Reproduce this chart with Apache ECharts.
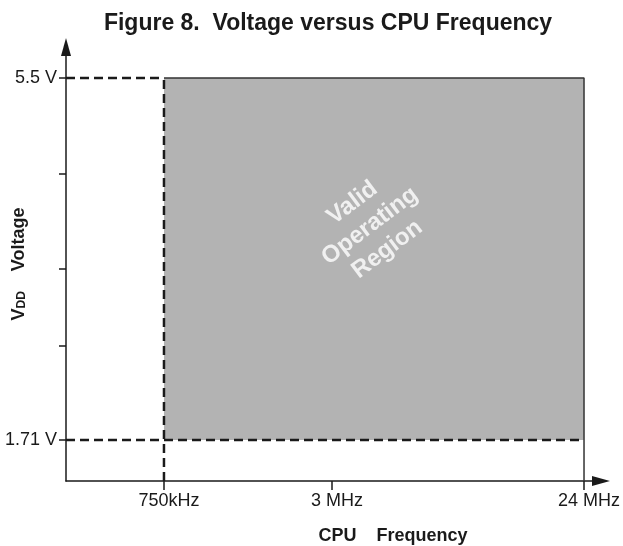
<!DOCTYPE html>
<html>
<head>
<meta charset="utf-8">
<script src="https://cdn.jsdelivr.net/npm/echarts@6/dist/echarts.min.js"></script>
<style>
html,body{margin:0;padding:0;background:#fff;}
#chart{width:623px;height:546px;}
</style>
</head>
<body>
<div id="chart"></div>
<script>
// ---- data ----
const freqTicks = [0.75, 3, 24];                 // MHz
const freqLabels = ['750kHz', '3 MHz', '24 MHz'];
const voltTicks = [1.71, 2.7, 3.5, 4.5, 5.5];    // V (unlabeled ticks in between)
const voltLabelValues = [1.71, 5.5];
const voltLabels = ['1.71 V', '5.5 V'];
const regionFreq = [0.75, 24];                   // valid operating region, MHz
const regionVolt = [1.71, 5.5];                  // valid operating region, V
const regionText = 'Valid\nOperating\nRegion';
const regionTextAt = [4.1, 3.95];

// axis extents
const xMin = 0.3342, xMax = 27.61;
const yMin = 1.281, yMax = 5.825;

const FONT = '"Liberation Sans", Arial, Helvetica, sans-serif';
const INK = '#1a1a1a';

function nearestLabel(v, vals, labels) {
  let best = 0, d = Infinity;
  vals.forEach((t, i) => { const dd = Math.abs(Math.log(v) - Math.log(t)); if (dd < d) { d = dd; best = i; } });
  return labels[best];
}

const dashStyle = { color: INK, width: 2.5, type: [9, 5] };
const solidStyle = { color: '#333', width: 1.5 };

const chart = echarts.init(document.getElementById('chart'), null, { renderer: 'canvas' });
chart.setOption({
  animation: false,
  backgroundColor: '#fff',
  title: {
    text: 'Figure 8.  Voltage versus CPU Frequency',
    left: 323, top: 7, textAlign: 'center',
    textStyle: { fontFamily: FONT, fontSize: 23, fontWeight: 'bold', color: INK }
  },
  grid: { left: 66, right: 22, top: 47, bottom: 65, outerBoundsMode: 'none', containLabel: false },
  xAxis: {
    type: 'log', logBase: 10, min: xMin, max: xMax,
    name: 'CPU    Frequency', nameLocation: 'middle', nameGap: 46, nameMoveOverlap: false,
    nameTextStyle: { fontFamily: FONT, fontSize: 18, fontWeight: 'bold', color: INK, padding: [0, 0, 0, 119] },
    axisLine: { show: true, lineStyle: { color: INK, width: 1.5 }, symbol: ['none', 'triangle'], symbolSize: [10, 18] },
    axisTick: { show: true, customValues: freqTicks, length: 9, lineStyle: { color: INK, width: 1.5 } },
    axisLabel: {
      show: true, customValues: freqTicks, margin: 11,
      fontFamily: FONT, fontSize: 18, color: INK, padding: [0, 0, 0, 10],
      formatter: v => nearestLabel(v, freqTicks, freqLabels)
    },
    splitLine: { show: false }, minorTick: { show: false }
  },
  yAxis: {
    type: 'value', min: yMin, max: yMax,
    name: '{v|V}{dd|DD}{v|    Voltage}', nameLocation: 'middle', nameGap: 38, nameRotate: 90, nameMoveOverlap: false,
    nameTextStyle: {
      fontFamily: FONT, color: INK,
      rich: {
        v: { fontFamily: FONT, fontSize: 18, fontWeight: 'bold', color: INK, verticalAlign: 'bottom', lineHeight: 20 },
        dd: { fontFamily: FONT, fontSize: 12, fontWeight: 'bold', color: INK, verticalAlign: 'bottom', lineHeight: 16 }
      }
    },
    axisLine: { show: true, lineStyle: { color: INK, width: 1.5 }, symbol: ['none', 'triangle'], symbolSize: [10, 18] },
    axisTick: { show: true, customValues: voltTicks, length: 7, lineStyle: { color: INK, width: 1.5 } },
    axisLabel: {
      show: true, customValues: voltLabelValues, margin: 9,
      fontFamily: FONT, fontSize: 18, color: INK,
      formatter: v => nearestLabel(v, voltLabelValues, voltLabels)
    },
    splitLine: { show: false }
  },
  series: [
    {
      name: 'region', type: 'line', data: [], z: 1,
      markArea: {
        silent: true,
        itemStyle: { color: '#b3b3b3' },
        data: [[{ coord: [regionFreq[0], regionVolt[1]] }, { coord: [regionFreq[1], regionVolt[0]] }]]
      }
    },
    {
      name: 'topDash', type: 'line', symbol: 'none', z: 3, lineStyle: dashStyle,
      data: [[xMin, regionVolt[1]], [regionFreq[0], regionVolt[1]]]
    },
    {
      name: 'bottomDash', type: 'line', symbol: 'none', z: 3, lineStyle: dashStyle,
      data: [[xMin, regionVolt[0]], [regionFreq[1], regionVolt[0]]]
    },
    {
      name: 'leftDash', type: 'line', symbol: 'none', z: 3, lineStyle: dashStyle,
      data: [[regionFreq[0], yMin], [regionFreq[0], regionVolt[1]]]
    },
    {
      name: 'boxEdge', type: 'line', symbol: 'none', z: 3, lineStyle: solidStyle,
      data: [[regionFreq[0], regionVolt[1]], [regionFreq[1], regionVolt[1]], [regionFreq[1], yMin]]
    },
    {
      name: 'regionText', type: 'scatter', symbolSize: 0, z: 4, silent: true,
      data: [regionTextAt],
      label: {
        show: true, position: 'inside', formatter: regionText, rotate: 37,
        align: 'center', verticalAlign: 'middle',
        fontFamily: FONT, fontSize: 24, fontWeight: 'bold', color: '#ffffff', lineHeight: 29
      }
    }
  ]
});
</script>
</body>
</html>
